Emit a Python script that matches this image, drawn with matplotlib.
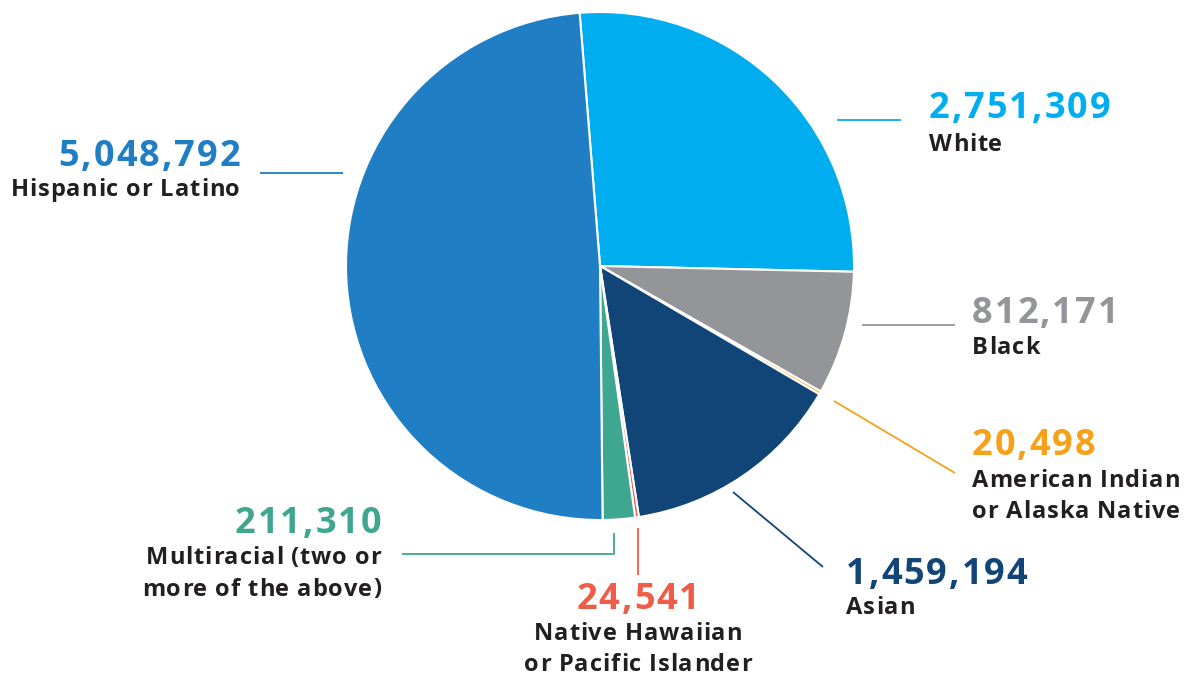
import matplotlib
matplotlib.use("Agg")
import matplotlib.pyplot as plt
from matplotlib.font_manager import findfont, FontProperties
from matplotlib.ft2font import FT2Font
try:
    from matplotlib.ft2font import LoadFlags
    NOHINT = LoadFlags.NO_HINTING
except Exception:
    from matplotlib.ft2font import LOAD_NO_HINTING as NOHINT

# ---- data ----
categories = ["White", "Black", "American Indian\nor Alaska Native", "Asian",
              "Native Hawaiian\nor Pacific Islander", "Multiracial (two or\nmore of the above)",
              "Hispanic or Latino"]
values = [2751309, 812171, 20498, 1459194, 24541, 211310, 5048792]
value_labels = ["2,751,309", "812,171", "20,498", "1,459,194", "24,541", "211,310", "5,048,792"]
colors = ["#00AEEF", "#939598", "#F7A11A", "#124577", "#EE5D47", "#3FA68F", "#1F7EC4"]

W, H = 1187, 677
DPI = 100
FAMILY = 'Open Sans'

fig = plt.figure(figsize=(W / DPI, H / DPI), dpi=DPI)
ax = fig.add_axes([0, 0, 1, 1])

def P(px, py):
    return px, H - py

cx, cy = P(600, 266)
ax.pie(values, colors=colors, startangle=94.6, counterclock=False,
       center=(cx, cy), radius=254, frame=True,
       wedgeprops=dict(edgecolor='white', linewidth=1.5))
ax.set_xlim(0, W)
ax.set_ylim(0, H)
ax.set_aspect('auto')
ax.axis('off')

fp = FontProperties(family=FAMILY, weight='bold')
font_path = findfont(fp)

def advances(s, size):
    f = FT2Font(font_path)
    f.set_size(size, DPI)
    out = []
    for ch in s:
        g = f.load_char(ord(ch), flags=NOHINT)
        out.append(g.linearHoriAdvance / 65536.0)
    return out

def tracked_text(x, y, s, size, track, ha, color):
    adv = advances(s, size)
    total = sum(adv) + track * (len(s) - 1)
    if ha == 'left':
        x0 = x
    elif ha == 'right':
        x0 = x - total
    else:
        x0 = x - total / 2.0
    cur = x0
    for ch, a in zip(s, adv):
        if ch != ' ':
            ax.text(*P(cur, y), ch, color=color, fontsize=size, fontweight='bold',
                    family=FAMILY, ha='left', va='baseline')
        cur += a + track

TEXT = "#231F20"
NUM_FS = 26
NUM_TRACK = 2.0
LAB_FS = 17
LAB_TRACK = 0.9
LINE_GAP = 31.5

# leader lines (pixel coords)
leaders = {
    "White": [(837, 120), (901, 120)],
    "Black": [(862, 325), (955, 325)],
    "American Indian\nor Alaska Native": [(834, 401), (955, 473)],
    "Asian": [(733, 492), (823, 567)],
    "Native Hawaiian\nor Pacific Islander": [(638, 528), (638, 575)],
    "Multiracial (two or\nmore of the above)": [(614, 533), (614, 554), (402, 554)],
    "Hispanic or Latino": [(260, 173), (343, 173)],
}
# text anchors: (x, number baseline y, label first baseline y, ha)
anchors = {
    "White": (929, 118, 151, 'left'),
    "Black": (972, 323, 354, 'left'),
    "American Indian\nor Alaska Native": (972, 455, 487, 'left'),
    "Asian": (846, 584, 614, 'left'),
    "Native Hawaiian\nor Pacific Islander": (638, 609, 639.5, 'center'),
    "Multiracial (two or\nmore of the above)": (381, 533, 564, 'right'),
    "Hispanic or Latino": (240, 166, 196, 'right'),
}

for cat, vlab, col in zip(categories, value_labels, colors):
    pts = [P(x, y) for x, y in leaders[cat]]
    ax.plot([p[0] for p in pts], [p[1] for p in pts], color=col, lw=1.3,
            solid_capstyle='butt')
    x, ny, ly, ha = anchors[cat]
    tracked_text(x, ny, vlab, NUM_FS, NUM_TRACK, ha, col)
    for i, line in enumerate(cat.split("\n")):
        tracked_text(x, ly + i * LINE_GAP, line, LAB_FS, LAB_TRACK, ha, TEXT)

fig.savefig("out.png", dpi=DPI, facecolor='white')
